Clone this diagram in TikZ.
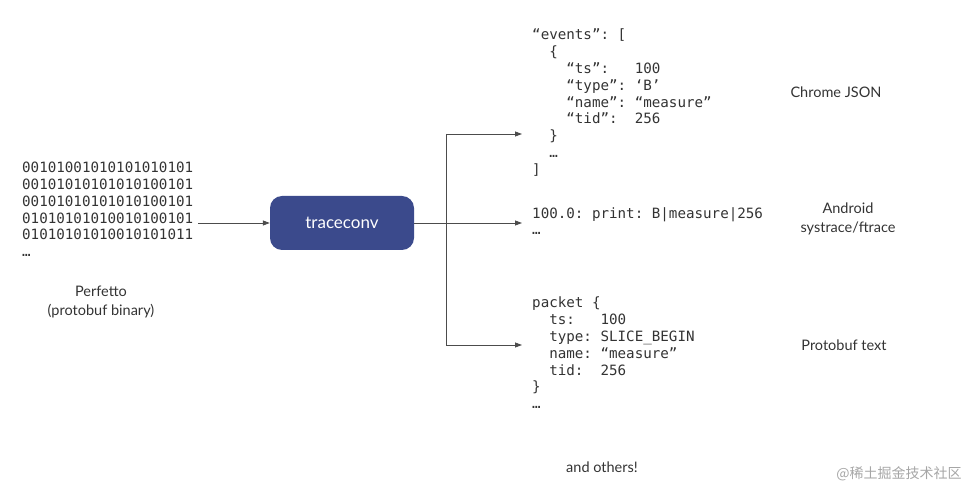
\documentclass[tikz,border=0pt]{standalone}
\usepackage{fontspec}
\setmainfont{Lato}
\setmonofont{DejaVu Sans Mono}
\newfontfamily\cjk{Noto Sans CJK SC}
\usetikzlibrary{arrows.meta}
\definecolor{boxblue}{HTML}{3B4A8C}
\definecolor{codegray}{HTML}{333333}
\tikzset{
  code/.style={anchor=north west,inner sep=0pt,align=left,font=\fontsize{14.2}{16.8}\selectfont\ttfamily,text=codegray},
  lbl/.style={inner sep=0pt,align=center,font=\fontsize{14.5}{19}\selectfont,text=codegray},
  arr/.style={-{Triangle[length=7pt,width=5pt]},draw=black!70,line width=0.8pt},
  ln/.style={draw=black!70,line width=0.8pt}
}
\begin{document}
\begin{tikzpicture}[x=1pt,y=-1pt]
\useasboundingbox (0,0) rectangle (978,502);
\node[code] (bin) at (22,162) {00101001010101010101\\00101010101010100101\\00101010101010100101\\01010101010010100101\\01010101010010101011\\…};
\node[lbl] (perf) at (101,302) {Perfetto\\(protobuf binary)};
\node[fill=boxblue,rounded corners=12pt,minimum width=144pt,minimum height=54pt,text=white,font=\fontsize{17}{19}\selectfont] (tc) at (342,223) {traceconv};
\coordinate (in) at (198,223);
\draw[arr] (in) -- (tc.west);
\coordinate (jsonin) at (522,134);
\coordinate (andin) at (522,223);
\coordinate (pbin) at (522,345);
\coordinate (vt) at (446,134);
\coordinate (vb) at (446,345);
\draw[arr] (tc.east) -- (andin);
\draw[ln] (vt) -- (vb);
\draw[arr] (vt) -- (jsonin);
\draw[arr] (vb) -- (pbin);
\node[code] (json) at (532,29) {“events”: [\\\ \ \{\\\ \ \ \ “ts”:\ \ \ 100\\\ \ \ \ “type”: ‘B’\\\ \ \ \ “name”: “measure”\\\ \ \ \ “tid”:\ \ 256\\\ \ \}\\\ \ …\\]};
\node[code] (and) at (532,207) {100.0: print: B|measure|256\\…};
\node[code] (pb) at (532,297) {packet \{\\\ \ ts:\ \ \ 100\\\ \ type: SLICE\_BEGIN\\\ \ name: “measure”\\\ \ tid:\ \ 256\\\}\\…};
\node[lbl] (l1) at (836,92) {Chrome JSON};
\node[lbl] (l2) at (848,219) {Android\\systrace/ftrace};
\node[lbl] (l3) at (844,345) {Protobuf text};
\node[lbl] (oth) at (602,467) {and others!};
\node[inner sep=0pt,text=black!35,font=\fontsize{14}{16}\cjk] (wm) at (899,474) {@稀土掘金技术社区};
\end{tikzpicture}
\end{document}
